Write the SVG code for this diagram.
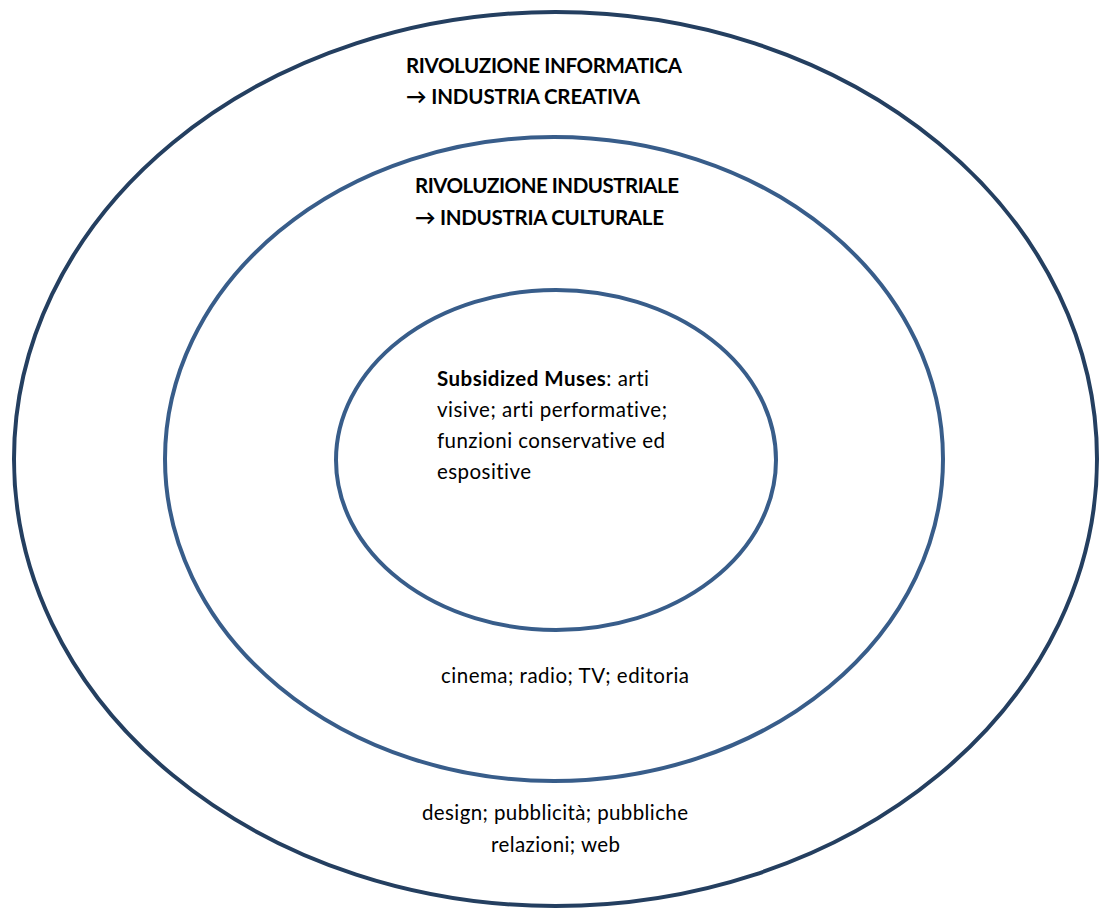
<svg xmlns="http://www.w3.org/2000/svg" width="1099" height="909" viewBox="0 0 1099 909">
<style>
.ring{fill:none;stroke-width:4}
.outer{stroke:#243F60}
.mid{stroke:#385D8A}
text{font-family:Lato,"Liberation Sans",sans-serif;fill:#000;font-size:20.5px;font-variant-ligatures:none}
.b{font-weight:bold}
</style>
<rect width="1099" height="909" fill="#fff"/>
<g id="ring-outer"><ellipse class="ring outer" cx="555.5" cy="459" rx="541.5" ry="447"/>
<text class="b" x="406" y="73" textLength="276">RIVOLUZIONE INFORMATICA</text>
<text class="b" x="406" y="104" textLength="234">→ INDUSTRIA CREATIVA</text>
<text x="422" y="820" textLength="266">design; pubblicità; pubbliche</text>
<text x="491" y="852" textLength="129">relazioni; web</text>
</g>
<g id="ring-middle"><ellipse class="ring mid" cx="554" cy="459" rx="389" ry="322"/>
<text class="b" x="415" y="193" textLength="264">RIVOLUZIONE INDUSTRIALE</text>
<text class="b" x="415" y="225" textLength="249">→ INDUSTRIA CULTURALE</text>
<text x="441" y="683" textLength="248">cinema; radio; TV; editoria</text>
</g>
<g id="ring-inner"><ellipse class="ring mid" cx="556" cy="460" rx="220" ry="170"/>
<text x="437" y="386" textLength="212"><tspan class="b">Subsidized Muses</tspan>: arti</text>
<text x="437" y="417" textLength="230">visive; arti performative;</text>
<text x="437" y="448" textLength="228">funzioni conservative ed</text>
<text x="437" y="479" textLength="94">espositive</text>
</g>
<g id="connectors"/>
</svg>
